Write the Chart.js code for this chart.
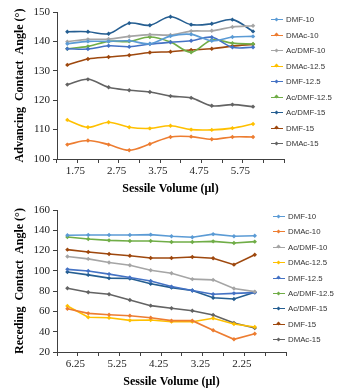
<!DOCTYPE html>
<html>
<head>
<meta charset="utf-8">
<script src="https://cdn.jsdelivr.net/npm/chart.js@4"></script>
<style>
body{margin:0;background:#fff;width:348px;height:391px;overflow:hidden;position:relative;font-family:"Liberation Sans",Arial,sans-serif}
.box{position:absolute;left:0;width:348px}
.legend{position:absolute;font-size:7.8px;color:#333}
.item{position:absolute;left:0;white-space:nowrap;height:10px;line-height:10px}
.sym{position:absolute;left:0;top:4px;width:12px;height:0;border-top:1.5px solid}
.dot{position:absolute;left:4px;top:-2.5px;width:3px;height:3px;transform:rotate(45deg)}
.txt{position:absolute;left:15px;top:0}
</style>
</head>
<body>
<div class="box" style="top:0;height:196px"><canvas id="advChart"></canvas></div>
<div class="box" style="top:196px;height:195px"><canvas id="recChart"></canvas></div>
<div class="legend" id="advLegend" style="left:271px;top:15px"></div>
<div class="legend" id="recLegend" style="left:273px;top:212px"></div>
<script>
// categories (last one is an empty slot, as in the original axis)
const advVolumes = ['1.75','2.25','2.75','3.25','3.75','4.25','4.75','5.25','5.75','6.25',''];
const recVolumes = ['6.25','5.75','5.25','4.75','4.25','3.75','3.25','2.75','2.25','1.75',''];

const seriesNames = ['DMF-10','DMAc-10','Ac/DMF-10','DMAc-12.5','DMF-12.5','Ac/DMF-12.5','Ac/DMF-15','DMF-15','DMAc-15'];
const seriesColors = ['#5B9BD5','#ED7D31','#A5A5A5','#FFC000','#4472C4','#70AD47','#255E91','#9E480E','#636363'];

// advancing contact angle
const advDMF10   = [139.2,140.0,140.0,140.2,139.2,141.8,142.4,140.2,141.5,141.7];
const advDMAc10  = [104.9,106.3,104.9,103.0,105.1,107.5,107.6,106.7,107.5,107.5];
const advAcDMF10 = [139.9,140.7,140.8,141.7,142.3,142.2,143.5,143.6,144.9,145.3];
const advDMAc125 = [113.3,110.8,112.5,110.8,110.4,111.3,110.0,109.9,110.5,111.9];
const advDMF125  = [137.5,137.4,138.5,138.2,139.1,139.7,140.2,141.4,138.0,138.0];
const advAcDMF125= [137.5,138.3,140.0,140.0,141.5,139.8,136.3,140.5,139.4,139.1];
const advAcDMF15 = [143.3,143.3,142.6,146.2,145.5,148.4,145.7,146.0,147.4,143.4];
const advDMF15   = [132.0,134.0,134.7,135.3,136.2,136.5,137.1,137.5,138.4,139.0];
const advDMAc15  = [125.3,127.1,124.4,123.4,122.8,121.4,120.8,118.1,118.5,117.8];

// receding contact angle
const recDMF10   = [135.1,135.4,135.4,135.4,135.7,134.1,133.1,136.2,134.1,134.6];
const recDMAc10  = [62.7,58.1,56.8,55.8,53.8,50.9,50.9,41.4,32.5,38.0];
const recAcDMF10 = [114.1,111.8,108.2,105.6,100.6,97.7,91.8,91.1,82.6,79.5];
const recDMAc125 = [65.4,54.2,53.8,51.2,51.6,49.9,49.9,53.2,47.6,44.6];
const recDMF125  = [101.5,99.8,96.8,93.4,90.0,84.5,80.6,77.0,77.8,78.5];
const recAcDMF125= [133.4,131.4,130.1,129.4,129.4,128.5,128.5,129.1,127.5,128.8];
const recAcDMF15 = [98.8,96.0,92.8,92.5,87.3,83.5,80.6,73.5,72.3,79.0];
const recDMF15   = [120.9,118.6,116.6,114.9,112.7,112.7,113.7,112.4,106.1,115.9];
const recDMAc15  = [82.8,78.9,76.9,71.3,65.7,63.1,60.7,56.5,48.6,43.7];

const advSeries = [advDMF10,advDMAc10,advAcDMF10,advDMAc125,advDMF125,advAcDMF125,advAcDMF15,advDMF15,advDMAc15];
const recSeries = [recDMF10,recDMAc10,recAcDMF10,recDMAc125,recDMF125,recAcDMF125,recAcDMF15,recDMF15,recDMAc15];

const serif = 'Liberation Serif, Times New Roman, serif';

function makeChart(id, labels, series, yMin, yMax, yStep, yTitle, tension, pad, xTitlePad, xHeight) {
  return new Chart(document.getElementById(id), {
    type: 'line',
    data: {
      labels: labels,
      datasets: series.map((d, i) => ({
        label: seriesNames[i],
        data: d,
        borderColor: seriesColors[i],
        backgroundColor: seriesColors[i],
        borderWidth: 1.6,
        pointStyle: 'rectRot',
        pointRadius: 2.2,
        pointBorderWidth: 0,
        tension: tension,
        fill: false
      }))
    },
    options: {
      responsive: true,
      maintainAspectRatio: false,
      animation: false,
      layout: { padding: pad },
      plugins: { legend: { display: false }, tooltip: { enabled: false } },
      scales: {
        x: {
          type: 'category',
          offset: true,
          grid: { offset: true, drawOnChartArea: false, drawTicks: true, tickLength: 4, color: '#404040' },
          border: { display: true, color: '#404040', width: 1 },
          ticks: {
            autoSkip: false, maxRotation: 0, padding: 2, labelOffset: 8,
            color: '#222', font: { family: serif, size: 11 },
            callback: function(v, i) { return i % 2 === 0 ? labels[i] : ''; }
          },
          title: { display: true, text: 'Sessile Volume (μl)', color: '#000',
                   font: { family: serif, size: 12, weight: 'bold' }, padding: { top: 0, bottom: xTitlePad } },
          afterFit: s => { s.height = xHeight; }
        },
        y: {
          min: yMin, max: yMax,
          grid: { drawOnChartArea: false, drawTicks: true, tickLength: 4, color: '#404040' },
          border: { display: true, color: '#404040', width: 1 },
          ticks: { stepSize: yStep, padding: 3, color: '#222', font: { family: serif, size: 11 } },
          title: { display: true, text: yTitle, color: '#000',
                   font: { family: serif, size: 12, weight: 'bold' }, padding: { top: 9, bottom: 0 } },
          afterFit: s => { s.width = 53; }
        }
      }
    }
  });
}

function buildLegend(id, spacing) {
  const el = document.getElementById(id);
  seriesNames.forEach((name, i) => {
    const it = document.createElement('div');
    it.className = 'item';
    it.style.top = (i * spacing) + 'px';
    it.innerHTML = '<span class="sym" style="border-color:' + seriesColors[i] + '">' +
      '<span class="dot" style="background:' + seriesColors[i] + '"></span></span>' +
      '<span class="txt">' + name + '</span>';
    el.appendChild(it);
  });
}

makeChart('advChart', advVolumes, advSeries, 100, 150, 10, 'Advancing  Contact  Angle (°)', 0.35,
  { left: 4, right: 64, top: 12, bottom: 0 }, 0, 37);
makeChart('recChart', recVolumes, recSeries, 20, 160, 20, 'Receding  Contact  Angle (°)', 0,
  { left: 4, right: 62, top: 14, bottom: 0 }, 2, 39);

buildLegend('advLegend', 15.5);
buildLegend('recLegend', 15.4);
</script>
</body>
</html>
